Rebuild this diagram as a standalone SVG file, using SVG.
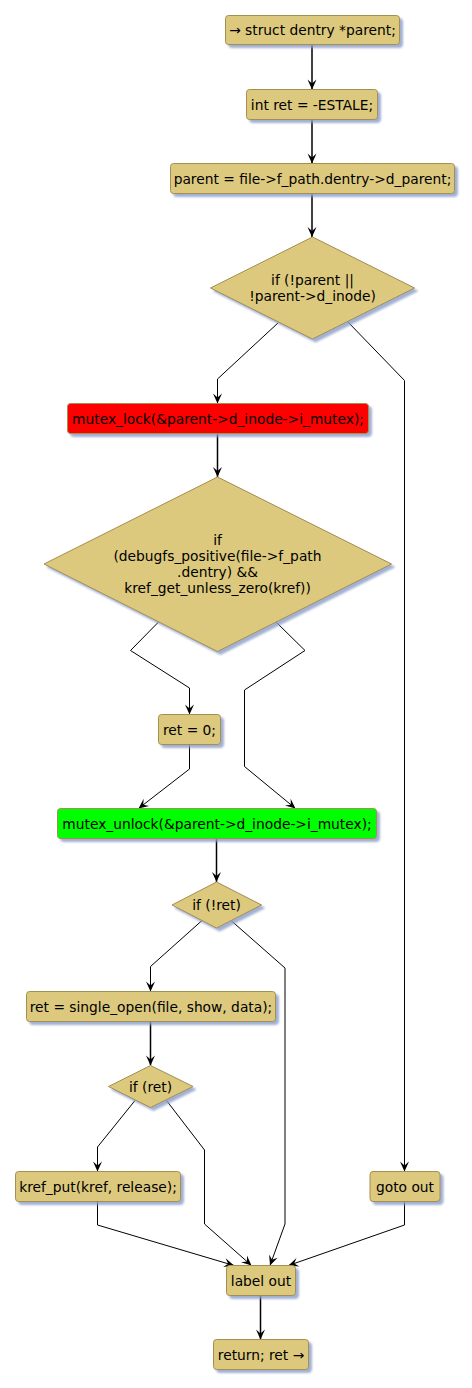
<svg xmlns="http://www.w3.org/2000/svg" width="472" height="1388" viewBox="0 0 472 1388">
<style>
.n{fill:#dcc97d;stroke:#a38f4f;stroke-width:1;filter:url(#sh)}
.red{fill:#ff0000}
.grn{fill:#00ff00}
text{font-family:"DejaVu Sans","Liberation Sans",sans-serif;font-size:13.8px;fill:#000;text-anchor:middle}
.c path{fill:none;stroke:#000;stroke-width:1;marker-end:url(#ah)}
.c .v{stroke-width:1.5}
</style>
<defs>
<filter id="sh" x="-5%" y="-5%" width="120%" height="140%">
<feGaussianBlur in="SourceAlpha" stdDeviation="1.2" result="b"/>
<feOffset in="b" dx="3" dy="3" result="o"/>
<feFlood flood-color="#8a9cc8" flood-opacity="0.8"/>
<feComposite in2="o" operator="in" result="s"/>
<feMerge><feMergeNode in="s"/><feMergeNode in="SourceGraphic"/></feMerge>
</filter>
<marker id="ah" viewBox="-11 -6 12 12" markerWidth="12" markerHeight="12" refX="0" refY="0" markerUnits="userSpaceOnUse" orient="auto">
<path d="M0,0 L-10,-4.5 L-6,0 L-10,4.5 Z" fill="#000" stroke="none"/>
</marker>
</defs>

<g id="connectors" class="c">
<path class="v" d="M312,44.5 L312,89.5"/>
<path class="v" d="M312,119.5 L312,163.5"/>
<path class="v" d="M312,193.5 L312,237"/>
<path d="M278.5,322.5 L217.5,379 L217.5,403.5"/>
<path d="M346.5,320.5 L404.5,380.5 L404.5,1171.5"/>
<path class="v" d="M217.5,433.5 L217.5,477"/>
<path d="M159,621.5 L130.5,650.5 L189.5,688 L189.5,714.5"/>
<path d="M275.5,621.5 L305,650.5 L244.5,690 L244.5,766.5 L295.5,808.5"/>
<path d="M189.5,744.5 L189.5,769 L138.5,808.5"/>
<path class="v" d="M216.5,838.5 L216.5,882"/>
<path d="M202,920.5 L150.5,966.5 L150.5,991.5"/>
<path d="M231,920.5 L285,968 L285,1224 L270,1265.5"/>
<path class="v" d="M150.5,1021.5 L150.5,1065.5"/>
<path d="M135,1100.5 L97.5,1147 L97.5,1171.5"/>
<path d="M166.5,1100.5 L204.5,1150 L204.5,1224 L251.5,1265.5"/>
<path d="M97.5,1201.5 L97.5,1225 L234,1265.5"/>
<path d="M404.5,1201.5 L404.5,1225 L288.5,1265.5"/>
<path class="v" d="M260.5,1295.5 L260.5,1339.5"/>
</g>

<g id="start">
<rect class="n" x="225.5" y="15.5" width="174" height="29" rx="3"/>
<text x="312.5" y="35">→ struct dentry *parent;</text>
</g>
<g id="init_ret">
<rect class="n" x="246.5" y="89.5" width="131" height="30" rx="3"/>
<text x="312" y="109.5">int ret = -ESTALE;</text>
</g>
<g id="assign_parent">
<rect class="n" x="170.5" y="163.5" width="284" height="30" rx="3"/>
<text x="312.5" y="183.5">parent = file-&gt;f_path.dentry-&gt;d_parent;</text>
</g>
<g id="if_parent">
<polygon class="n" points="312.5,237 414.5,288 312.5,339 210.5,288"/>
<text x="312.5" y="284.5">if (!parent ||</text>
<text x="312.5" y="300.5">!parent-&gt;d_inode)</text>
</g>
<g id="mutex_lock">
<rect class="n red" x="67.5" y="403.5" width="301" height="30" rx="3"/>
<text x="218" y="423.5">mutex_lock(&amp;parent-&gt;d_inode-&gt;i_mutex);</text>
</g>
<g id="if_positive">
<polygon class="n" points="217.5,477 391.5,564 217.5,651.5 44,564"/>
<text x="217.5" y="544.5">if</text>
<text x="217.5" y="560.5">(debugfs_positive(file-&gt;f_path</text>
<text x="217.5" y="576.5">.dentry) &amp;&amp;</text>
<text x="217.5" y="592.5">kref_get_unless_zero(kref))</text>
</g>
<g id="ret_zero">
<rect class="n" x="158.5" y="714.5" width="62" height="30" rx="3"/>
<text x="189.5" y="734.5">ret = 0;</text>
</g>
<g id="mutex_unlock">
<rect class="n grn" x="57.5" y="808.5" width="319" height="30" rx="3"/>
<text x="217" y="828.5">mutex_unlock(&amp;parent-&gt;d_inode-&gt;i_mutex);</text>
</g>
<g id="if_not_ret">
<polygon class="n" points="216.5,882 261.5,905 216.5,928 172,905"/>
<text x="216.5" y="910">if (!ret)</text>
</g>
<g id="single_open">
<rect class="n" x="26.5" y="991.5" width="249" height="30" rx="3"/>
<text x="151" y="1011.5">ret = single_open(file, show, data);</text>
</g>
<g id="if_ret">
<polygon class="n" points="150.5,1065.5 193,1086.5 150.5,1107.5 108.5,1086.5"/>
<text x="150.5" y="1091.5">if (ret)</text>
</g>
<g id="kref_put">
<rect class="n" x="15.5" y="1171.5" width="165" height="30" rx="3"/>
<text x="98" y="1191.5">kref_put(kref, release);</text>
</g>
<g id="goto_out">
<rect class="n" x="370" y="1171.5" width="70" height="30" rx="3"/>
<text x="405" y="1191.5">goto out</text>
</g>
<g id="label_out">
<rect class="n" x="226.5" y="1265.5" width="69" height="30" rx="3"/>
<text x="261" y="1285.5">label out</text>
</g>
<g id="return">
<rect class="n" x="213.5" y="1339.5" width="95" height="30" rx="3"/>
<text x="261" y="1359.5">return; ret →</text>
</g>
</svg>
